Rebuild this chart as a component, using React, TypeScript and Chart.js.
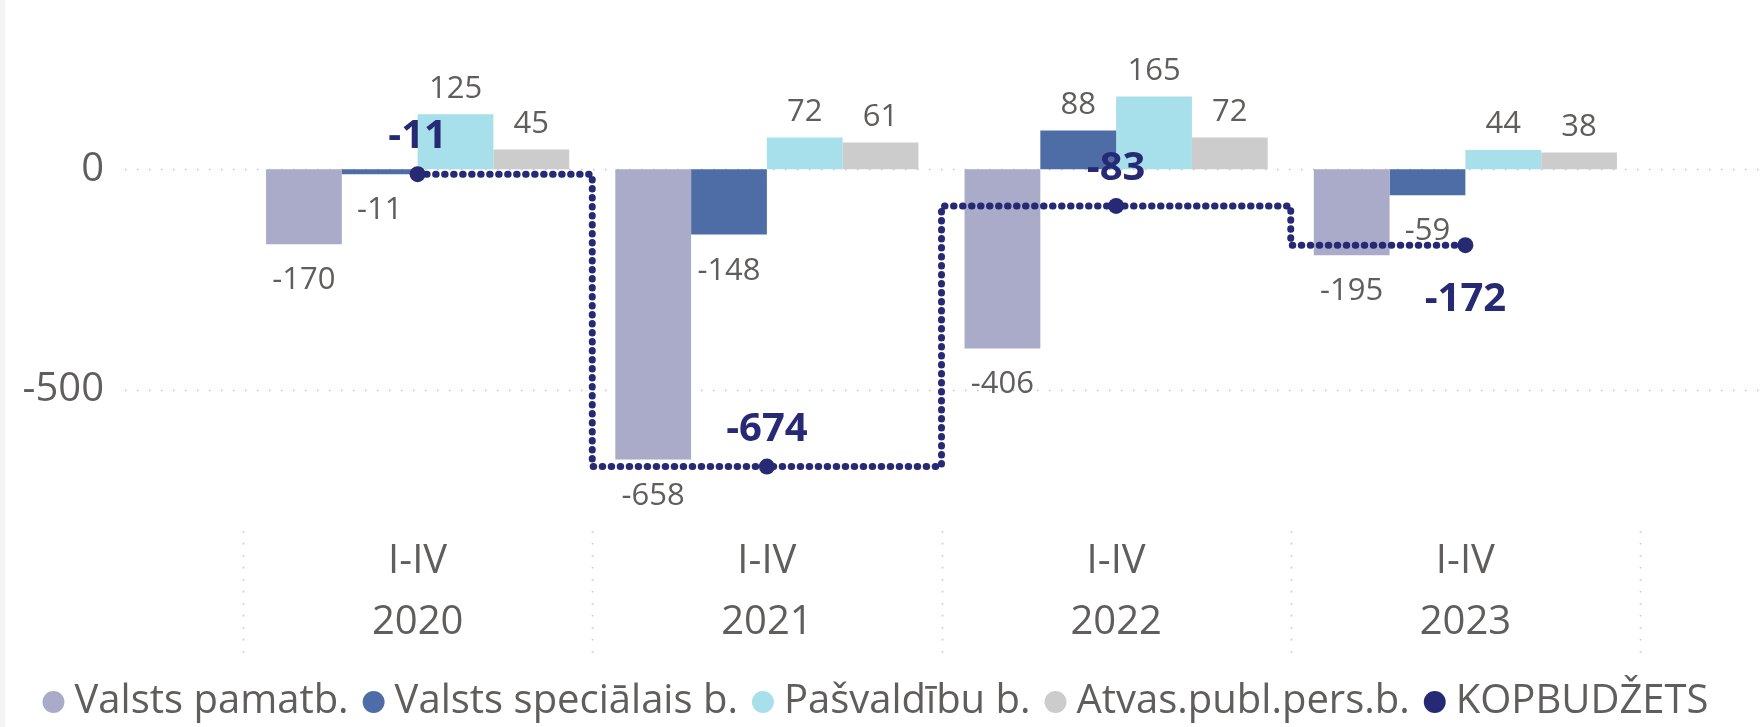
import React, { useEffect, useRef } from 'react';
import { Chart, registerables } from 'chart.js';

Chart.register(...registerables);

const categories = [
  ['I-IV', '2020'],
  ['I-IV', '2021'],
  ['I-IV', '2022'],
  ['I-IV', '2023'],
];
const valstsPamatb = [-170, -658, -406, -195];
const valstsSpecialais = [-11, -148, 88, -59];
const pasvaldibu = [125, 72, 165, 44];
const atvasPubl = [45, 61, 72, 38];
const kopbudzets = [-11, -674, -83, -172];
const yTicks = [-500, 0];
const seriesNames = ['Valsts pamatb.', 'Valsts speciālais b.', 'Pašvaldību b.', 'Atvas.publ.pers.b.', 'KOPBUDŽETS'];
const totalLabelSide = ['above', 'above', 'above', 'below'];

const FONT = "'Segoe UI', 'Open Sans', sans-serif";
const GRAY_TEXT = '#605e5c';
const NAVY = '#262973';
const barColors = ['#a9abc9', '#4e6da6', '#a7dfeb', '#cccccc'];

const gridPlugin = {
  id: 'customGrid',
  beforeDatasetsDraw(chart: any) {
    const { ctx, chartArea, scales } = chart;
    ctx.save();
    ctx.strokeStyle = '#c4c4c4';
    ctx.lineWidth = 1.5;
    ctx.setLineDash([1.5, 10.5]);
    for (const v of yTicks) {
      const y = Math.round(scales.y.getPixelForValue(v)) + 0.5;
      ctx.beginPath();
      ctx.moveTo(chartArea.left - 118, y);
      ctx.lineTo(chart.width, y);
      ctx.stroke();
    }
    const xs = scales.x;
    const step = xs.getPixelForValue(1) - xs.getPixelForValue(0);
    const start = xs.getPixelForValue(0) - step / 2;
    for (let i = 0; i <= categories.length; i++) {
      const x = Math.round(start + i * step) + 0.5;
      ctx.beginPath();
      ctx.moveTo(x, chartArea.bottom);
      ctx.lineTo(x, chartArea.bottom + 123);
      ctx.stroke();
    }
    ctx.restore();
  },
};

const labelPlugin = {
  id: 'valueLabels',
  afterDatasetsDraw(chart: any) {
    const { ctx } = chart;
    ctx.save();
    ctx.textAlign = 'center';
    ctx.textBaseline = 'alphabetic';
    ctx.font = `400 31px ${FONT}`;
    ctx.fillStyle = GRAY_TEXT;
    for (let i = 0; i < 4; i++) {
      const meta = chart.getDatasetMeta(i);
      const data = chart.data.datasets[i].data as number[];
      meta.data.forEach((el: any, j: number) => {
        const v = data[j];
        const y = v >= 0 ? el.y - 16.5 : el.y + 45;
        ctx.fillText(String(v), el.x, y);
      });
    }
    const lm = chart.getDatasetMeta(4);
    ctx.font = `700 40px ${FONT}`;
    ctx.fillStyle = NAVY;
    lm.data.forEach((el: any, j: number) => {
      const y = totalLabelSide[j] === 'above' ? el.y - 26 : el.y + 66;
      ctx.fillText(String(kopbudzets[j]), el.x, y);
    });
    ctx.restore();
  },
};

export default function App() {
  const canvasRef = useRef<HTMLCanvasElement | null>(null);

  useEffect(() => {
    document.body.style.margin = '0';
    document.body.style.overflow = 'hidden';
    document.documentElement.style.overflow = 'hidden';
    let chart: Chart | null = null;
    let cancelled = false;
    const make = () => {
      if (cancelled || !canvasRef.current) return;
      chart = new Chart(canvasRef.current, {
        type: 'bar',
        data: {
          labels: categories as any,
          datasets: [
            { label: seriesNames[0], data: valstsPamatb, backgroundColor: barColors[0], borderWidth: 0, yAxisID: 'y' },
            { label: seriesNames[1], data: valstsSpecialais, backgroundColor: barColors[1], borderWidth: 0, yAxisID: 'y' },
            { label: seriesNames[2], data: pasvaldibu, backgroundColor: barColors[2], borderWidth: 0, yAxisID: 'y' },
            { label: seriesNames[3], data: atvasPubl, backgroundColor: barColors[3], borderWidth: 0, yAxisID: 'y' },
            {
              type: 'line',
              label: seriesNames[4],
              data: kopbudzets,
              borderColor: NAVY,
              backgroundColor: NAVY,
              borderWidth: 7,
              borderDash: [0.5, 8.5],
              borderCapStyle: 'round',
              stepped: 'middle',
              pointRadius: 8,
              pointBackgroundColor: NAVY,
              pointBorderWidth: 0,
              fill: false,
              order: -1,
              yAxisID: 'y',
            } as any,
          ],
        },
        options: {
          animation: false,
          responsive: true,
          maintainAspectRatio: false,
          events: [],
          layout: { padding: { top: 37, left: 0, right: 0, bottom: 0 } },
          datasets: { bar: { categoryPercentage: 0.868, barPercentage: 1 } },
          scales: {
            x: {
              grid: { display: false, drawTicks: false },
              border: { display: false },
              ticks: {
                font: { family: FONT, size: 40, lineHeight: 1.525 },
                color: GRAY_TEXT,
                padding: 0,
                maxRotation: 0,
                autoSkip: false,
              },
              afterFit(s: any) { s.height = 127; },
            },
            y: {
              position: 'left',
              min: -820,
              max: 300,
              grid: { display: false, drawTicks: false },
              border: { display: false },
              ticks: {
                font: { family: FONT, size: 40 },
                color: GRAY_TEXT,
                padding: 139,
              },
              afterBuildTicks(s: any) { s.ticks = yTicks.map((v) => ({ value: v })); },
              afterFit(s: any) {
                s.width = 243;
                s.paddingTop = 0;
                s.paddingBottom = 0;
              },
            },
            yR: {
              type: 'linear',
              position: 'right',
              display: true,
              grid: { display: false, drawTicks: false },
              border: { display: false },
              ticks: { display: false },
              afterFit(s: any) {
                s.width = 121;
                s.paddingTop = 0;
                s.paddingBottom = 0;
              },
            },
          },
          plugins: {
            tooltip: { enabled: false },
            title: { display: false },
            legend: {
              display: true,
              position: 'bottom',
              align: 'center',
              labels: {
                usePointStyle: true,
                pointStyle: 'circle',
                boxWidth: 2,
                boxHeight: 15.5,
                padding: 24,
                color: GRAY_TEXT,
                font: { family: FONT, size: 40 },
                sort: (a: any, b: any) => a.datasetIndex - b.datasetIndex,
              },
            },
          },
        },
        plugins: [gridPlugin, labelPlugin],
      });
    };
    const fontsReady = (document as any).fonts
      ? Promise.all([
          (document as any).fonts.load(`400 40px 'Open Sans'`),
          (document as any).fonts.load(`700 40px 'Open Sans'`),
        ]).catch(() => null)
      : Promise.resolve(null);
    fontsReady.then(make);
    return () => {
      cancelled = true;
      if (chart) chart.destroy();
    };
  }, []);

  return (
    <div style={{ position: 'relative', width: 1761, height: 732 }}>
      <canvas ref={canvasRef} />
      <div style={{ position: 'absolute', left: 0, top: 0, width: 5, height: '100%', background: '#f4f4f4' }} />
    </div>
  );
}
